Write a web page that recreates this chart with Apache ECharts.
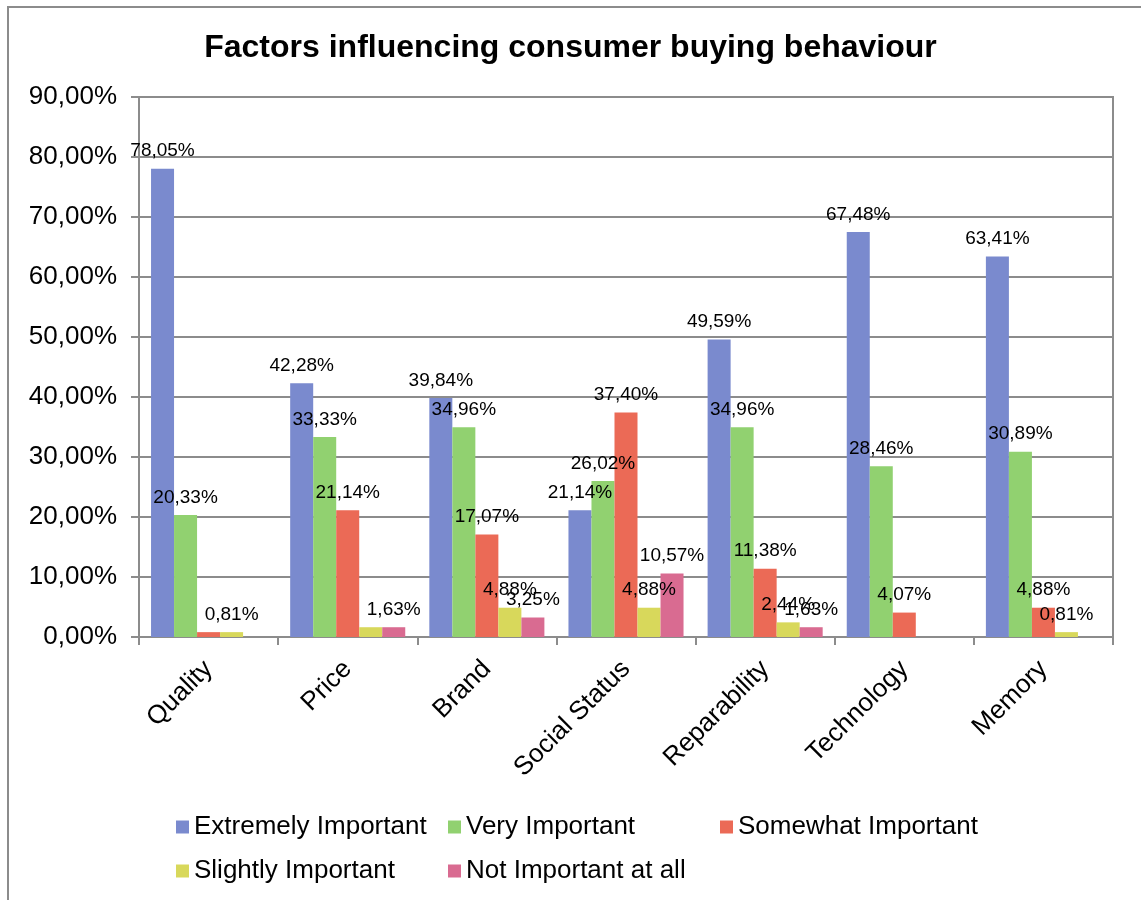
<!DOCTYPE html>
<html>
<head>
<meta charset="utf-8">
<title>Factors influencing consumer buying behaviour</title>
<script src="https://cdn.jsdelivr.net/npm/echarts@6/dist/echarts.min.js"></script>
<style>
  html, body { margin: 0; padding: 0; background: #fff; }
  #chart { width: 1141px; height: 900px; }
</style>
</head>
<body>
<div id="chart"></div>
<script>
// Survey shares (percent of respondents) per factor and rating
const categories = ['Quality', 'Price', 'Brand', 'Social Status', 'Reparability', 'Technology', 'Memory'];
const seriesNames = ['Extremely Important', 'Very Important', 'Somewhat Important', 'Slightly Important', 'Not Important at all'];
const extremelyImportant = [78.05, 42.28, 39.84, 21.14, 49.59, 67.48, 63.41];
const veryImportant      = [20.33, 33.33, 34.96, 26.02, 34.96, 28.46, 30.89];
const somewhatImportant  = [0.81, 21.14, 17.07, 37.40, 11.38, 4.07, 4.88];
const slightlyImportant  = [0.81, 1.63, 4.88, 4.88, 2.44, 0, 0.81];
const notImportant       = [0, 1.63, 3.25, 10.57, 1.63, 0, 0];
const yTicks = [0, 10, 20, 30, 40, 50, 60, 70, 80, 90];

// Where two equal neighbouring values would print the same label twice, only one is kept
const sharedLabels = { 'Somewhat Important': ['Quality'], 'Slightly Important': ['Price'] };

const colors = ['#7A8ACE', '#91D170', '#EB6A56', '#D8D85B', '#D96B91'];
const values = [extremelyImportant, veryImportant, somewhatImportant, slightlyImportant, notImportant];
const FONT = "'Liberation Sans', Arial, sans-serif";
const fmt = v => v.toFixed(2).replace('.', ',') + '%';

const chart = echarts.init(document.getElementById('chart'), null, { renderer: 'canvas' });

const series = seriesNames.map((name, s) => ({
  name,
  type: 'bar',
  barGap: '0%',
  barCategoryGap: '17.3%',
  itemStyle: { color: colors[s] },
  label: {
    show: true,
    position: 'top',
    distance: 8,
    color: '#000',
    fontFamily: FONT,
    fontSize: 19,
    formatter: p => {
      if (p.value === 0) return '';
      const skip = sharedLabels[name];
      if (skip && skip.indexOf(p.name) >= 0) return '';
      return fmt(p.value);
    }
  },
  data: values[s]
}));

chart.setOption({
  animation: false,
  backgroundColor: '#fff',
  color: colors,
  textStyle: { fontFamily: FONT },
  title: {
    text: 'Factors influencing consumer buying behaviour',
    left: 'center',
    top: 27,
    textStyle: { fontFamily: FONT, fontSize: 32, fontWeight: 'bold', color: '#000' }
  },
  graphic: [{
    type: 'rect',
    shape: { x: 8, y: 7, width: 1300, height: 1000 },
    style: { fill: 'none', stroke: '#8c8c8c', lineWidth: 2 },
    silent: true,
    z: -1
  }],
  legend: {
    left: 176,
    top: 810,
    width: 830,
    padding: 0,
    itemWidth: 13,
    itemHeight: 13,
    itemGap: 10,
    icon: 'rect',
    data: seriesNames,
    textStyle: { fontFamily: FONT, fontSize: 26, color: '#000', width: 244, lineHeight: 34 }
  },
  grid: {
    left: 139,
    right: 28,
    top: 97,
    bottom: 263,
    containLabel: false,
    outerBoundsMode: 'none',
    show: true,
    borderColor: '#8c8c8c',
    borderWidth: 2,
    backgroundColor: '#fff'
  },
  xAxis: {
    type: 'category',
    data: categories,
    boundaryGap: true,
    axisLine: { show: true, lineStyle: { color: '#8c8c8c', width: 2 } },
    axisTick: { show: true, length: 8, lineStyle: { color: '#8c8c8c', width: 2 } },
    axisLabel: {
      rotate: 45,
      margin: 28,
      interval: 0,
      color: '#000',
      fontFamily: FONT,
      fontSize: 26
    }
  },
  yAxis: {
    type: 'value',
    min: yTicks[0],
    max: yTicks[yTicks.length - 1],
    interval: yTicks[1] - yTicks[0],
    axisLine: { show: true, lineStyle: { color: '#8c8c8c', width: 2 } },
    axisTick: { show: true, length: 8, lineStyle: { color: '#8c8c8c', width: 2 } },
    splitLine: { show: true, lineStyle: { color: '#8c8c8c', width: 2 } },
    axisLabel: {
      margin: 22,
      color: '#000',
      fontFamily: FONT,
      fontSize: 26,
      formatter: v => fmt(v)
    }
  },
  series
});
</script>
</body>
</html>
